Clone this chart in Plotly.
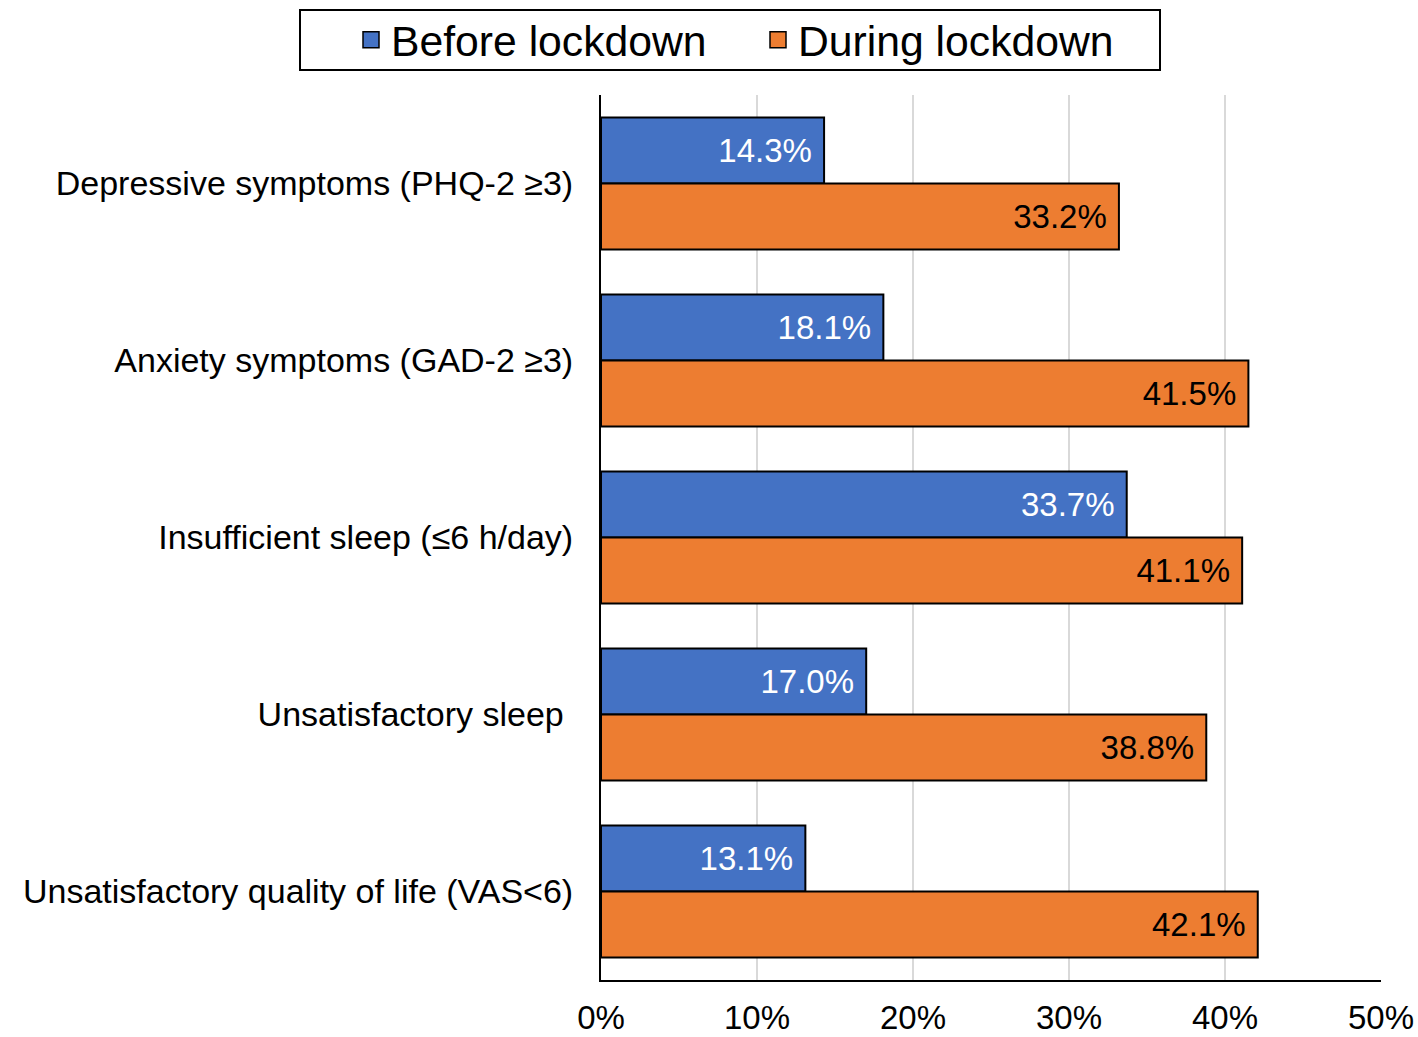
import plotly.graph_objects as go

categories = [
    "Depressive symptoms (PHQ-2 ≥3)",
    "Anxiety symptoms (GAD-2 ≥3)",
    "Insufficient sleep (≤6 h/day)",
    "Unsatisfactory sleep\u00a0",
    "Unsatisfactory quality of life (VAS<6)",
]
before = [14.3, 18.1, 33.7, 17.0, 13.1]
during = [33.2, 41.5, 41.1, 38.8, 42.1]
series_names = ["Before lockdown", "During lockdown"]
series_colors = ["#4472C4", "#ED7D31"]
label_colors = ["white", "black"]
x_ticks = [0, 10, 20, 30, 40, 50]
x_tick_labels = ["0%", "10%", "20%", "30%", "40%", "50%"]

FONT = "Liberation Sans, Arial, sans-serif"

fig = go.Figure()
for vals, name, col, lcol in zip([before, during], series_names, series_colors, label_colors):
    fig.add_trace(go.Bar(
        y=categories, x=vals, name=name, orientation="h", showlegend=False,
        marker=dict(color=col, line=dict(color="black", width=2)),
        text=[f"{v:.1f}%\u00a0" for v in vals], textposition="inside",
        insidetextanchor="end", textangle=0,
        textfont=dict(color=lcol, size=33, family=FONT),
    ))
# legend entries
for name, col in zip(series_names, series_colors):
    fig.add_trace(go.Scatter(
        x=[None], y=[None], mode="markers", name=name,
        marker=dict(symbol="square", size=22, color=col, line=dict(color="black", width=1.5)),
    ))

# legend frame
fig.add_shape(type="rect", xref="paper", yref="paper",
              x0=(300 - 601) / 780, x1=(1160 - 601) / 780,
              y0=1 + 25 / 885, y1=1 + 85 / 885,
              line=dict(color="black", width=2), fillcolor="rgba(0,0,0,0)")

fig.update_layout(
    width=1418, height=1037,
    margin=dict(l=601, r=37, t=95, b=57, autoexpand=False),
    paper_bgcolor="white", plot_bgcolor="white",
    barmode="group", bargap=0.254, bargroupgap=0,
    font=dict(family=FONT, color="black"),
    legend=dict(
        orientation="h", x=(351 - 601) / 780, xanchor="left",
        y=1 + 55 / 885, yanchor="middle",
        font=dict(size=42.7, family=FONT, color="black"),
        borderwidth=0, bgcolor="rgba(0,0,0,0)",
        traceorder="normal", itemsizing="trace", entrywidth=362,
    ),
    xaxis=dict(
        range=[0, 50], tickvals=x_ticks, ticktext=x_tick_labels,
        showgrid=True, gridcolor="#D9D9D9", gridwidth=1.5,
        showline=True, linecolor="black", linewidth=1.5,
        zeroline=False, ticks="", automargin=False,
        tickfont=dict(size=33, family=FONT, color="black"),
        ticklabelstandoff=8,
    ),
    yaxis=dict(
        autorange="reversed", automargin=False,
        showline=True, linecolor="black", linewidth=2,
        showgrid=False, ticks="",
        tickfont=dict(size=34, family=FONT, color="black"),
        ticklabelstandoff=19,
    ),
)

fig.write_html("out.html", config={"displayModeBar": False},
               post_script="document.body.style.margin='0px';")
